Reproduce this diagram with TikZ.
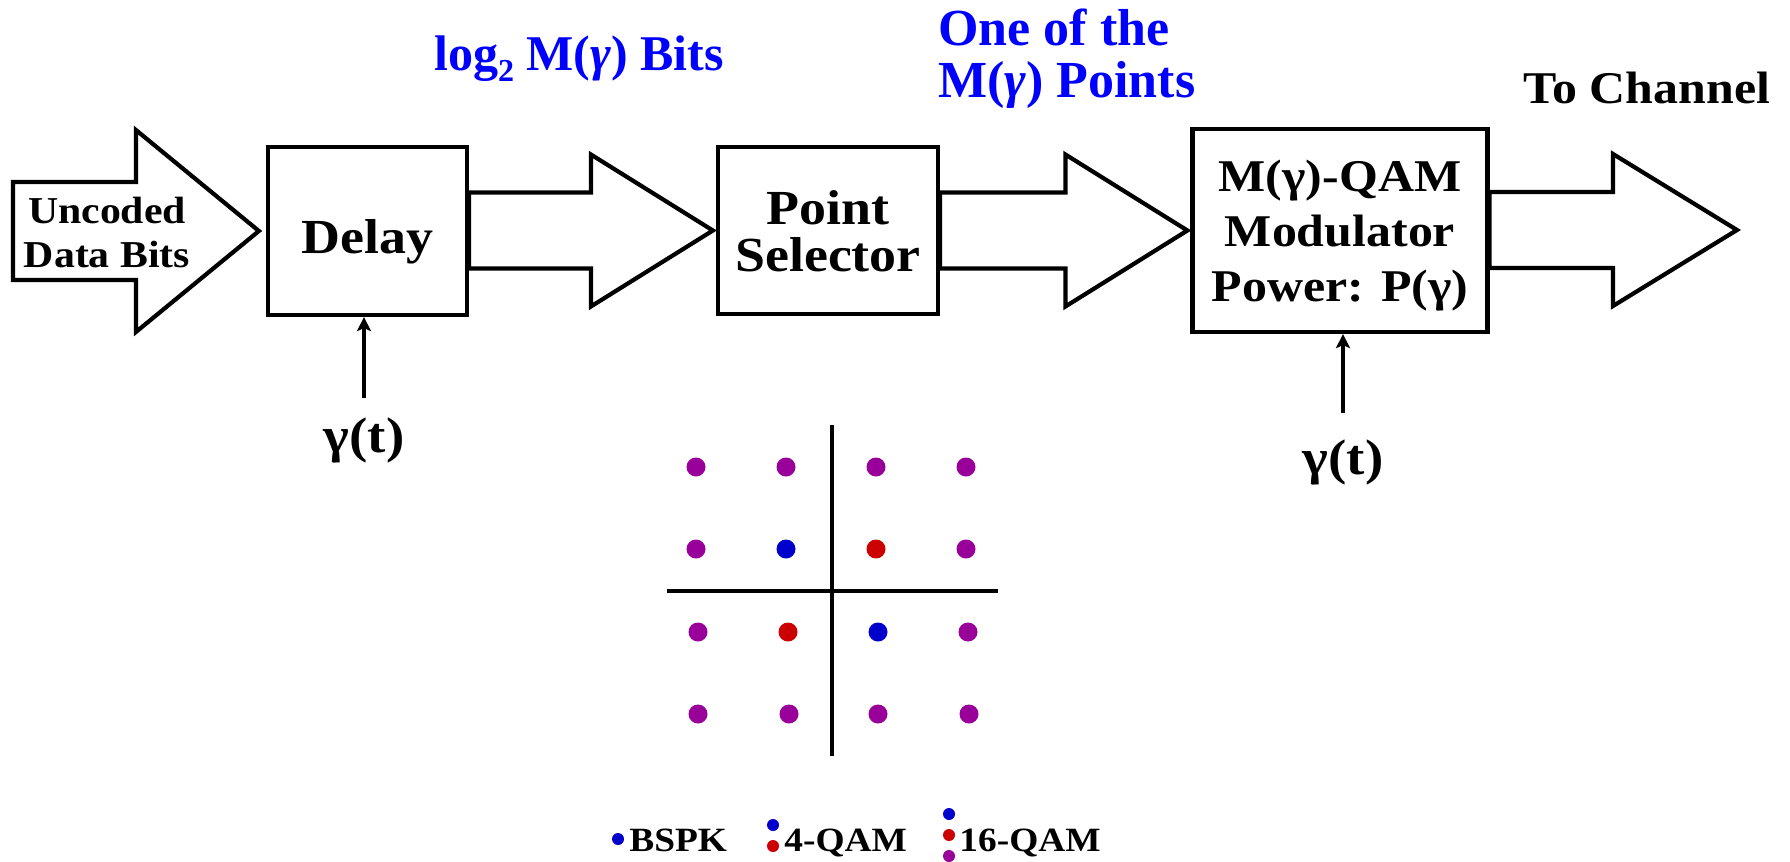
\documentclass[tikz,border=0pt]{standalone}
\usepackage{fontspec}
\newfontfamily\serifT{Liberation Serif}
\newfontfamily\wideserif{Liberation Serif}[FakeStretch=1.1]
\usetikzlibrary{calc,arrows.meta}
\definecolor{cblue}{RGB}{0,0,255}
\definecolor{dotblue}{RGB}{0,0,204}
\definecolor{dotred}{RGB}{204,0,0}
\definecolor{dotpurple}{RGB}{153,0,153}
\newcommand\fs[2]{\fontsize{#1}{#2}\selectfont}
% hollow block arrow: from, tip, shaft half-height, head half-height, head length
\newcommand\blockarrow[5]{%
  \draw[hollow] let \p1=(#1), \p2=(#2) in
    (\x1,\y2+#3) -- (\x2-#5,\y2+#3) -- (\x2-#5,\y2+#4) -- (\x2,\y2)
    -- (\x2-#5,\y2-#4) -- (\x2-#5,\y2-#3) -- (\x1,\y2-#3) -- cycle;}
\begin{document}
\begin{tikzpicture}[x=0.5pt,y=-0.5pt,line join=miter,
  blk/.style={draw,line width=2.1pt,inner sep=0pt,align=center,text depth=0pt},
  hollow/.style={draw,line width=2.1pt,fill=white},
  sig/.style={line width=2.3pt,-{Stealth[length=7pt,width=7pt,inset=1.5pt]}},
  lbl/.style={inner sep=0pt},
  bluelbl/.style={inner sep=0pt,text=cblue},
  axis/.style={line width=2pt}]
\useasboundingbox (0,0) rectangle (1790,862);

% processing blocks
\node[blk,minimum width=99.5pt,minimum height=84pt,text height=22pt,
  font=\wideserif\bfseries\fs{24.5}{27}] (delay) at (367.5,231) {Delay};
\node[blk,minimum width=110pt,minimum height=83.5pt,
  font=\wideserif\bfseries\fs{24.5}{23.5}] (ps) at (828,230.5) {Point\\Selector};
\node[blk,minimum width=147.5pt,minimum height=101.5pt,
  font=\wideserif\bfseries\fs{22.7}{27.5}] (mod) at (1340,230.5)
  {M(γ)-QAM\\Modulator\\Power: P(γ)};

% data path
\coordinate (src) at (13,230);
\coordinate (sink) at (1737,230);
\blockarrow{src}{[xshift=-3.5pt]delay.west}{24.5pt}{50.5pt}{61.5pt}
\blockarrow{delay.east}{[xshift=-1.5pt]ps.west}{19pt}{38pt}{61pt}
\blockarrow{ps.east}{[xshift=-1.5pt]mod.west}{19pt}{38pt}{61pt}
\blockarrow{mod.east}{sink}{19pt}{38pt}{62pt}

% labels
\node[lbl,font=\wideserif\bfseries\fs{19}{22},align=center] (uncoded) at (107,232)
  {Uncoded\\Data Bits};
\node[lbl,font=\wideserif\bfseries\fs{22.7}{26},anchor=base] (tochan) at (1647,103)
  {To Channel};
\node[bluelbl,font=\serifT\bfseries\fs{25}{26},anchor=base] (bits) at (579,70)
  {log\raisebox{-0.22em}{\fs{16}{16}2} M(\textit{γ}) Bits};
\node[bluelbl,font=\serifT\bfseries\fs{26}{26},align=left,anchor=north west]
  (pts) at (938,8) {One of the\\M(\textit{γ}) Points};

% channel state inputs
\node[lbl,font=\wideserif\bfseries\fs{25}{25},anchor=base] (g1) at (364,452) {γ(t)};
\node[lbl,font=\wideserif\bfseries\fs{25}{25},anchor=base] (g2) at (1343,474) {γ(t)};
\draw[sig] ([yshift=9.5pt]g1.north) -- (g1.north |- delay.south);
\draw[sig] ([yshift=13pt]g2.north) -- (g2.north |- mod.south);

% constellation
\coordinate (vt) at (832,425); \coordinate (vb) at (832,756);
\coordinate (hl) at (667,591); \coordinate (hr) at (998,591);
\draw[axis] (vt) -- (vb);
\draw[axis] (hl) -- (hr);
\foreach \x/\y/\c in {
  696/467/dotpurple, 786/467/dotpurple, 876/467/dotpurple, 966/467/dotpurple,
  696/549/dotpurple, 786/549/dotblue,   876/549/dotred,    966/549/dotpurple,
  698/632/dotpurple, 788/632/dotred,    878/632/dotblue,   968/632/dotpurple,
  698/714/dotpurple, 789/714/dotpurple, 878/714/dotpurple, 969/714/dotpurple}
  \fill[\c] (\x,\y) circle[radius=4.75pt];

% legend
\fill[dotblue] (618,839) circle[radius=3pt];
\node[lbl,font=\wideserif\bfseries\fs{17}{17},anchor=base west] (lbspk) at (629,851) {BSPK};
\fill[dotblue] (773,825) circle[radius=3pt];
\fill[dotred] (773,846) circle[radius=3pt];
\node[lbl,font=\wideserif\bfseries\fs{17}{17},anchor=base west] (lqam4) at (784,851) {4-QAM};
\fill[dotblue] (949,814) circle[radius=3pt];
\fill[dotred] (949,835) circle[radius=3pt];
\fill[dotpurple] (949,856) circle[radius=3pt];
\node[lbl,font=\wideserif\bfseries\fs{17}{17},anchor=base west] (lqam16) at (959,851) {16-QAM};
\end{tikzpicture}
\end{document}
